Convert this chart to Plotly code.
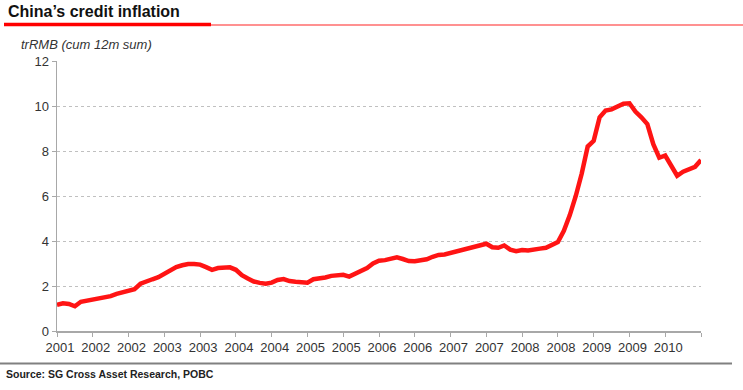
import plotly.graph_objects as go

# ---- data, monthly from early 2001 ----
months = list(range(0, 109))
credit_trn = [
    1.16, 1.23, 1.20, 1.10, 1.30, 1.35, 1.35, 1.43, 1.45, 1.55,
    1.65, 1.73, 1.80, 1.86, 2.10, 2.22, 2.30, 2.39, 2.54, 2.74,
    2.84, 2.92, 2.98, 2.98, 2.95, 2.84, 2.72, 2.80, 2.83, 2.83,
    2.72, 2.48, 2.33, 2.20, 2.14, 2.10, 2.15, 2.27, 2.31, 2.22,
    2.19, 2.17, 2.15, 2.30, 2.32, 2.38, 2.45, 2.49, 2.50, 2.42,
    2.55, 2.68, 2.80, 3.00, 3.12, 3.15, 3.20, 3.27, 3.20, 3.11,
    3.10, 3.15, 3.19, 3.30, 3.38, 3.40, 3.47, 3.55, 3.62, 3.68,
    3.75, 3.82, 3.88, 3.72, 3.70, 3.80, 3.62, 3.55, 3.60, 3.58,
    3.60, 3.66, 3.70, 3.80, 3.95, 4.45, 5.15, 6.00, 7.00, 8.20,
    8.45, 9.50, 9.80, 9.85, 10.00, 10.10, 10.12, 9.75, 9.50, 9.20,
    8.30, 7.70, 7.80, 7.30, 6.90, 7.08, 7.17, 7.30, 7.60,
]
tick_pos = list(range(0, 109, 6))
tick_labels = ["2001", "2002", "2002", "2003", "2003", "2004", "2004", "2005",
               "2005", "2006", "2006", "2007", "2007", "2008", "2008", "2009",
               "2009", "2010", ""]
y_ticks = [0, 2, 4, 6, 8, 10, 12]

title_text = "China\u2019s credit inflation"
unit_text = "trRMB (cum 12m sum)"
source_text = "Source: SG Cross Asset Research, POBC"

FONT = "Liberation Sans, Arial, sans-serif"

# plot area in pixels
L, R, T, B = 57, 701, 61, 331
W, H = R - L, B - T


def px(x):
    return (x - L) / W


def py(y):
    return (B - y) / H


fig = go.Figure()
fig.add_trace(go.Scatter(
    x=months, y=credit_trn, mode="lines",
    line=dict(color="#FF1414", width=4.5),
    hoverinfo="skip", showlegend=False,
))

fig.update_layout(
    width=743, height=390,
    margin=dict(l=L, r=743 - R, t=T, b=390 - B, pad=0),
    paper_bgcolor="white", plot_bgcolor="white",
    font=dict(family=FONT, size=13, color="#333333"),
    showlegend=False,
    hovermode=False,
    xaxis=dict(
        range=[0, 108], tickmode="array", tickvals=tick_pos, ticktext=tick_labels,
        showgrid=False, zeroline=False, showline=True, linecolor="#A8A8A8",
        linewidth=1.5, ticks="outside", ticklen=4, tickcolor="#A8A8A8",
        tickfont=dict(size=13, color="#333333"), ticklabelshift=3,
    ),
    yaxis=dict(
        range=[0, 12], tickmode="array", tickvals=y_ticks,
        showgrid=True, gridcolor="#C0C0C0", griddash="3px,3px", gridwidth=1,
        zeroline=False, showline=True, linecolor="#A8A8A8", linewidth=1.5,
        ticks="outside", ticklen=4, tickcolor="#A8A8A8",
        tickfont=dict(size=13, color="#333333"),
    ),
    shapes=[
        dict(type="line", xref="paper", yref="paper", x0=px(211), x1=px(743),
             y0=py(25), y1=py(25), line=dict(color="rgba(255,60,60,0.75)", width=1.5)),
        dict(type="line", xref="paper", yref="paper", x0=px(4), x1=px(211),
             y0=py(24.5), y1=py(24.5), line=dict(color="#FF0000", width=3.5)),
        dict(type="line", xref="paper", yref="paper", x0=px(0), x1=px(732),
             y0=py(363.5), y1=py(363.5), line=dict(color="#808080", width=2)),
    ],
    annotations=[
        dict(text="<b>" + title_text + "</b>", xref="paper", yref="paper",
             x=px(6), y=py(12), xanchor="left", yanchor="middle", showarrow=False,
             font=dict(family=FONT, size=16, color="#111111")),
        dict(text="<i>" + unit_text + "</i>", xref="paper", yref="paper",
             x=px(19), y=py(44.5), xanchor="left", yanchor="middle", showarrow=False,
             font=dict(family=FONT, size=13, color="#333333")),
        dict(text="<b>" + source_text + "</b>", xref="paper", yref="paper",
             x=px(4), y=py(374), xanchor="left", yanchor="middle", showarrow=False,
             font=dict(family=FONT, size=10.5, color="#222222")),
    ],
)

fig.write_html("out.html", config={"displayModeBar": False, "staticPlot": True},
               post_script="document.body.style.margin='0';")
